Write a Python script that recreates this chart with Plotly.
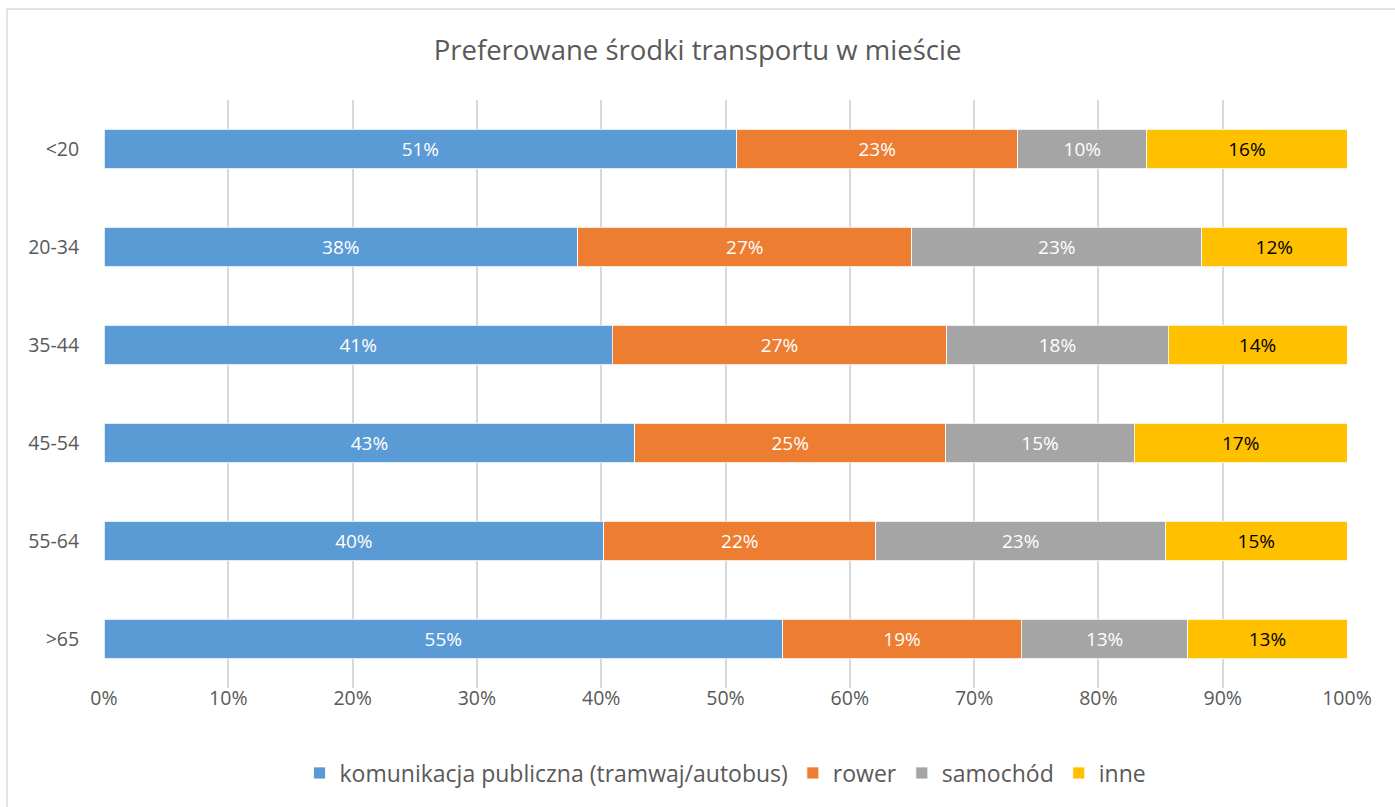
import plotly.graph_objects as go

categories = ["<20", "20-34", "35-44", "45-54", "55-64", ">65"]
series_names = ["komunikacja publiczna (tramwaj/autobus)", "rower", "samochód", "inne"]
komunikacja = [50.9, 38.1, 40.9, 42.7, 40.2, 54.6]
rower = [22.6, 26.9, 26.9, 25.0, 21.9, 19.2]
samochod = [10.4, 23.3, 17.8, 15.2, 23.3, 13.4]
inne = [16.1, 11.7, 14.4, 17.1, 14.6, 12.8]
tick_vals = [0, 10, 20, 30, 40, 50, 60, 70, 80, 90, 100]
tick_text = ["0%", "10%", "20%", "30%", "40%", "50%", "60%", "70%", "80%", "90%", "100%"]

colors = ["#5B9BD5", "#ED7D31", "#A5A5A5", "#FFC000"]
text_colors = ["#FFFFFF", "#FFFFFF", "#FFFFFF", "#000000"]
values = [komunikacja, rower, samochod, inne]

FONT = "Open Sans"

fig = go.Figure()
for name, vals, col, tcol in zip(series_names, values, colors, text_colors):
    fig.add_trace(go.Bar(
        y=categories, x=vals, name=name, orientation="h",
        marker=dict(color=col, line=dict(color="#FFFFFF", width=0.8)),
        texttemplate="%{x:.0f}%", textposition="inside", insidetextanchor="middle",
        textfont=dict(family=FONT, size=19, color=tcol),
        hoverinfo="x+y+name",
    ))

W, H = 1395, 807
l, r, t, b = 104, 48, 100, 119
pw, ph = W - l - r, H - t - b

fig.update_layout(
    width=W, height=H,
    barmode="stack", bargap=0.6,
    plot_bgcolor="white", paper_bgcolor="white",
    margin=dict(l=l, r=r, t=t, b=b, autoexpand=False),
    title=dict(text="Preferowane środki transportu w mieście", x=0.5, xanchor="center",
               y=1 - 50 / H, yanchor="middle",
               font=dict(family=FONT, size=27.5, color="#595959")),
    xaxis=dict(range=[0, 100], tickvals=tick_vals, ticktext=tick_text,
               showgrid=True, gridcolor="#D9D9D9", gridwidth=1.5, zeroline=False,
               showline=False, ticks="", ticklen=0, ticklabelstandoff=-4,
               tickfont=dict(family=FONT, size=19.5, color="#595959")),
    yaxis=dict(categoryorder="array", categoryarray=categories[::-1],
               showgrid=False, zeroline=False, showline=False, ticks="outside",
               ticklen=20, tickcolor="rgba(0,0,0,0)",
               tickfont=dict(family=FONT, size=19.5, color="#595959")),
    legend=dict(orientation="h", x=0.5, xanchor="center", y=-(773 - (t + ph)) / ph, yanchor="middle",
                font=dict(family=FONT, size=23, color="#595959"), traceorder="normal",
                itemwidth=30, tracegroupgap=0),
    showlegend=True,
)

# light outer chart border
fig.add_shape(type="rect", xref="paper", yref="paper",
              x0=(7 - l) / pw, x1=(W + 10 - l) / pw,
              y0=-(H + 10 - t - ph) / ph, y1=(t + ph - 9) / ph,
              line=dict(color="#D9D9D9", width=1.5), fillcolor="rgba(0,0,0,0)", layer="below")

fig.write_html("out.html", config={"displayModeBar": False},
               post_script="document.body.style.margin='0px';")
